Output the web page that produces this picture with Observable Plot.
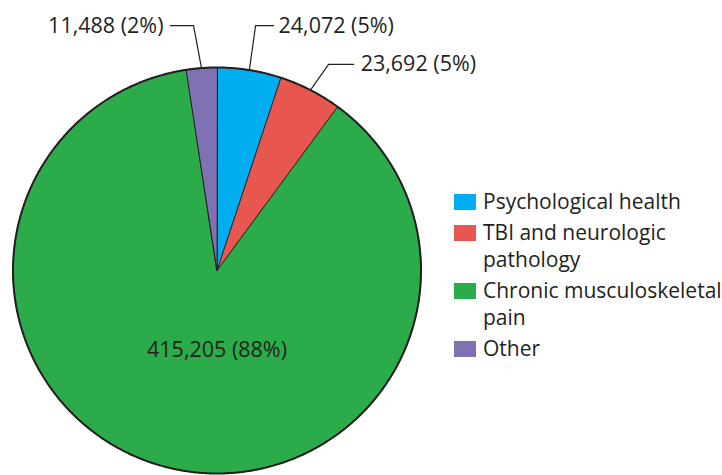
<!DOCTYPE html>
<html>
<head>
<meta charset="utf-8">
<script src="https://cdn.jsdelivr.net/npm/d3@7"></script>
<script src="https://cdn.jsdelivr.net/npm/@observablehq/plot@0.6"></script>
<style>
  html, body { margin: 0; padding: 0; background: #fff; }
  #wrap { position: relative; width: 722px; height: 475px; overflow: hidden; font-family: "Open Sans", sans-serif; color: #231f20; }
  #legend { position: absolute; left: 454px; top: 188px; width: 290px; }
  .item { display: flex; align-items: flex-start; margin-bottom: 4px; }
  .sw { width: 22px; height: 16px; flex: none; margin-top: 6px; margin-right: 7px; }
  .lab { font-size: 21px; line-height: 27px; width: 252px; }
</style>
</head>
<body>
<div id="wrap"><div id="chart"></div><div id="legend"></div></div>
<script>
// ---- data ----
const categories = ["Psychological health", "TBI and neurologic pathology", "Chronic musculoskeletal pain", "Other"];
const values = [24072, 23692, 415205, 11488];
const colors = ["#00adee", "#e8574f", "#2bab4a", "#8070b4"];

// ---- layout (label placement, data units of the unit circle) ----
const labelLayout = [
  {elbow: [0.189, 1.206], end: 0.277, anchor: "start", dx: 5},
  {elbow: [0.547, 1.015], end: 0.670, anchor: "start", dx: 7},
  {inside: [0, -0.39]},
  {elbow: [-0.115, 1.206], end: -0.228, anchor: "end", dx: -7}
];

const total = d3.sum(values);
const fmt = d3.format(",");
const pie = d3.pie().sort(null).value(d => d.value);
const arcs = pie(categories.map((c, i) => ({category: c, value: values[i], i})));

// polygon points of each slice (angles clockwise from 12 o'clock)
const slicePts = [];
const rimPts = [];
for (const a of arcs) {
  const n = Math.max(4, Math.ceil((a.endAngle - a.startAngle) / 0.01));
  slicePts.push({category: a.data.category, x: 0, y: 0});
  for (let k = 0; k <= n; k++) {
    const t = a.startAngle + (a.endAngle - a.startAngle) * k / n;
    slicePts.push({category: a.data.category, x: Math.sin(t), y: Math.cos(t)});
  }
}
for (let k = 0; k <= 720; k++) {
  const t = 2 * Math.PI * k / 720;
  rimPts.push({x: Math.sin(t), y: Math.cos(t)});
}

const leaderPts = [];
const labels = [];
arcs.forEach((a, i) => {
  const L = labelLayout[i];
  const txt = `${fmt(a.data.value)} (${Math.round(100 * a.data.value / total)}%)`;
  if (L.inside) {
    labels.push({x: L.inside[0], y: L.inside[1], text: txt, anchor: "middle", dx: 0});
    return;
  }
  const m = (a.startAngle + a.endAngle) / 2;
  leaderPts.push({k: i, x: Math.sin(m), y: Math.cos(m)});
  leaderPts.push({k: i, x: L.elbow[0], y: L.elbow[1]});
  leaderPts.push({k: i, x: L.end, y: L.elbow[1]});
  labels.push({x: L.end, y: L.elbow[1], text: txt, anchor: L.anchor, dx: L.dx});
});

const plot = Plot.plot({
  width: 722,
  height: 475,
  margin: 0,
  style: {fontFamily: "Open Sans", background: "#fff"},
  x: {domain: [-1, 1], range: [12.5, 420.5], axis: null},
  y: {domain: [-1, 1], range: [473, 67], axis: null},
  color: {domain: categories, range: colors},
  marks: [
    Plot.line(slicePts, {x: "x", y: "y", z: "category", fill: "category", stroke: "#231f20", strokeWidth: 1, curve: "linear-closed"}),
    Plot.line(rimPts, {x: "x", y: "y", stroke: "#231f20", strokeWidth: 2}),
    Plot.line(leaderPts, {x: "x", y: "y", z: "k", stroke: "#231f20", strokeWidth: 1.2}),
    ...labels.map(l => Plot.text([l], {x: "x", y: "y", text: "text", textAnchor: l.anchor, dx: l.dx, fontSize: 21.5, fill: "#231f20", lineAnchor: "middle"}))
  ]
});
document.getElementById("chart").appendChild(plot);

const legend = document.getElementById("legend");
categories.forEach((c, i) => {
  const it = document.createElement("div");
  it.className = "item";
  const sw = document.createElement("div");
  sw.className = "sw";
  sw.style.background = colors[i];
  const lab = document.createElement("div");
  lab.className = "lab";
  lab.textContent = c;
  it.appendChild(sw);
  it.appendChild(lab);
  legend.appendChild(it);
});
</script>
</body>
</html>
